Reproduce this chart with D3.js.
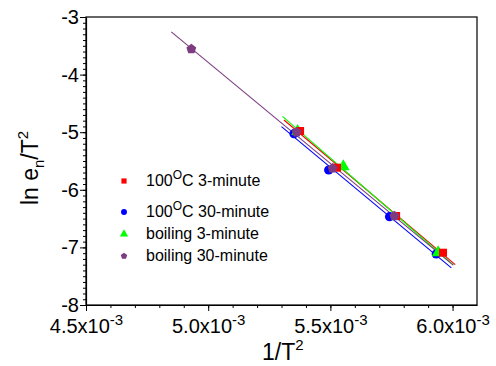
<!DOCTYPE html>
<html>
<head>
<meta charset="utf-8">
<script src="https://cdn.jsdelivr.net/npm/d3@7"></script>
<style>
  html, body { margin: 0; padding: 0; background: #fff; }
  svg text { font-family: 'Liberation Sans', Arial, sans-serif; fill: #000; }
</style>
</head>
<body>
<div id="app"></div>
<script>
const seriesNames = ['100°C 3-minute', '100°C 30-minute', 'boiling 3-minute', 'boiling 30-minute']
const legendMain = ['100', '100', 'boiling 3-minute', 'boiling 30-minute']
const colors = ['#ff0000', '#0000ff', '#00ff00', '#7d3c80']

// x = 1/T^2, y = ln(en/T^2)
const red = [[5.376e-3, -4.979], [5.527e-3, -5.616], [5.769e-3, -6.455], [5.961e-3, -7.092]]
const blue = [[5.351e-3, -5.026], [5.493e-3, -5.656], [5.742e-3, -6.467], [5.933e-3, -7.115]]
const green = [[5.366e-3, -4.985], [5.553e-3, -5.599], [5.941e-3, -7.092]]
const purple = [[4.931e-3, -3.556], [5.362e-3, -5.002], [5.509e-3, -5.627], [5.762e-3, -6.455]]
const series = [red, blue, green, purple]

// x extent of each fitted line
const fitRanges = [[5.31e-3, 6.011e-3], [5.30e-3, 5.995e-3], [5.304e-3, 6.003e-3], [4.849e-3, 6.003e-3]]

const xTicks = [4.5e-3, 5.0e-3, 5.5e-3, 6.0e-3]
const yTicks = [-8, -7, -6, -5, -4, -3]

const W = 496, H = 366
const svg = d3.select('#app').append('svg').attr('width', W).attr('height', H)

const x = d3.scaleLinear().domain([4.5e-3, 6.1e-3]).range([86, 477])
const y = d3.scaleLinear().domain([-8, -3]).range([305, 17])

// frame
svg.append('rect')
  .attr('x', x.range()[0]).attr('y', y.range()[1])
  .attr('width', x.range()[1] - x.range()[0])
  .attr('height', y.range()[0] - y.range()[1])
  .attr('fill', 'none').attr('stroke', '#000').attr('stroke-width', 1.2)

// minor ticks
const xMinor = d3.range(45, 61).map(d => d / 1e4)
const yMinor = d3.range(-80, -29).map(d => d / 10)

svg.append('g').attr('transform', `translate(0,${y.range()[0]})`)
  .call(d3.axisBottom(x).tickValues(xMinor).tickSize(3).tickFormat(''))
  .call(g => g.select('.domain').remove())
svg.append('g').attr('transform', `translate(${x.range()[0]},0)`)
  .call(d3.axisLeft(y).tickValues(yMinor).tickSize(3).tickFormat(''))
  .call(g => g.select('.domain').remove())

// major x axis
const gx = svg.append('g').attr('transform', `translate(0,${y.range()[0]})`)
  .call(d3.axisBottom(x).tickValues(xTicks).tickSize(6).tickSizeOuter(0))
gx.select('.domain').attr('stroke-width', 1.2)
gx.selectAll('text').each(function (d) {
  const t = d3.select(this).text('').attr('font-size', 20).attr('y', 14).attr('dy', '0.71em')
  t.append('tspan').text('' + (d * 1e3).toFixed(1) + 'x10')
  t.append('tspan').attr('font-size', 15).attr('dy', '-0.55em').text('-3')
})

// major y axis
const gy = svg.append('g').attr('transform', `translate(${x.range()[0]},0)`)
  .call(d3.axisLeft(y).tickValues(yTicks).tickSize(6).tickSizeOuter(0).tickFormat(d => d))
gy.select('.domain').attr('stroke-width', 1.2)
gy.selectAll('text').attr('font-size', 20).attr('x', -7)

// axis titles
const yl = svg.append('text')
  .attr('transform', `translate(38,168) rotate(-90)`)
  .attr('text-anchor', 'middle').attr('font-size', 23)
yl.append('tspan').text('ln e')
yl.append('tspan').attr('font-size', 15).attr('dy', 6).text('n')
yl.append('tspan').attr('dy', -6).text('/T')
yl.append('tspan').attr('font-size', 15).attr('dy', -10).text('2')

const xl = svg.append('text').attr('x', 262).attr('y', 360).attr('font-size', 23)
xl.append('tspan').text('1/T')
xl.append('tspan').attr('font-size', 15).attr('dy', -10).text('2')

// fitted lines
const plot = svg.append('g')
series.forEach((pts, i) => {
  const lr = linReg(pts)
  const [a, b] = fitRanges[i]
  plot.append('line')
    .attr('x1', x(a)).attr('y1', y(lr.m * a + lr.c))
    .attr('x2', x(b)).attr('y2', y(lr.m * b + lr.c))
    .attr('stroke', colors[i]).attr('stroke-width', 1.1)
})

function linReg(pts) {
  const mx = d3.mean(pts, p => p[0]), my = d3.mean(pts, p => p[1])
  const sxy = d3.sum(pts, p => (p[0] - mx) * (p[1] - my))
  const sxx = d3.sum(pts, p => (p[0] - mx) ** 2)
  const m = sxy / sxx
  return { m, c: my - m * mx }
}

function pentagon(r) {
  const pts = d3.range(5).map(k => {
    const ang = -Math.PI / 2 + k * 2 * Math.PI / 5
    return [r * Math.cos(ang), r * Math.sin(ang)]
  })
  return 'M' + pts.map(p => p.join(',')).join('L') + 'Z'
}

function marker(i, scale) {
  if (i === 0) return d3.symbol(d3.symbolSquare, 64 * scale)()
  if (i === 1) return d3.symbol(d3.symbolCircle, 66 * scale)()
  if (i === 2) return d3.symbol(d3.symbolTriangle, 70 * scale)()
  return pentagon(5.2 * Math.sqrt(scale))
}

// markers (blue, green, red, purple stacking as in the original)
const drawOrder = [1, 2, 0, 3]
drawOrder.forEach(i => {
  plot.selectAll(null).data(series[i]).join('path')
    .attr('transform', d => `translate(${x(d[0])},${y(d[1])})`)
    .attr('d', marker(i, 1))
    .attr('fill', colors[i])
})

// legend
const legendY = [186, 217, 239, 261]
const leg = svg.append('g')
seriesNames.forEach((name, i) => {
  leg.append('path')
    .attr('transform', `translate(124,${legendY[i] - 5})`)
    .attr('d', marker(i, 0.42))
    .attr('fill', colors[i])
  const t = leg.append('text').attr('x', 146).attr('y', legendY[i]).attr('font-size', 16)
  if (i < 2) {
    t.append('tspan').text(legendMain[i])
    t.append('tspan').attr('font-size', 12).attr('dy', -7).text('O')
    t.append('tspan').attr('dy', 7).text(i === 0 ? 'C 3-minute' : 'C 30-minute')
  } else {
    t.text(legendMain[i])
  }
})
</script>
</body>
</html>
